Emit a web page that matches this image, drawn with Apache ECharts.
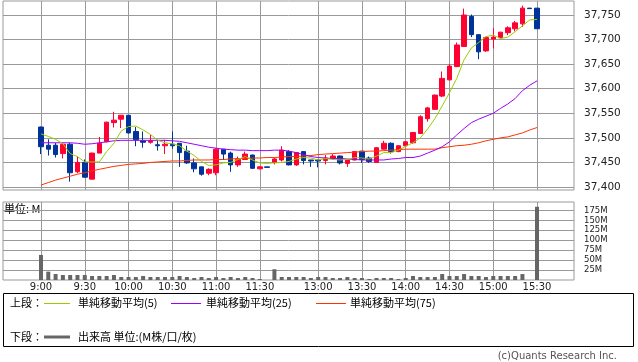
<!DOCTYPE html>
<html><head><meta charset="utf-8">
<script src="https://cdn.jsdelivr.net/npm/echarts@6/dist/echarts.min.js"></script>
<style>html,body{margin:0;padding:0;background:#fff}#c{width:638px;height:362px}</style>
</head><body><div id="c"></div>
<script>
// ---- data ----
const times = ["9:00","9:05","9:10","9:15","9:20","9:25","9:30","9:35","9:40","9:45","9:50","9:55",
"10:00","10:05","10:10","10:15","10:20","10:25","10:30","10:35","10:40","10:45","10:50","10:55",
"11:00","11:05","11:10","11:15","11:20","11:25","11:30","",
"12:30","12:35","12:40","12:45","12:50","12:55",
"13:00","13:05","13:10","13:15","13:20","13:25","13:30","13:35","13:40","13:45","13:50","13:55",
"14:00","14:05","14:10","14:15","14:20","14:25","14:30","14:35","14:40","14:45","14:50","14:55",
"15:00","15:05","15:10","15:15","15:20","15:25","15:30"];
const opens  = [37522,37485,37485,37468,37487,37431,37450,37416,37469,37492,37531,37538,37546,37513,37494,37491,37486,37484,37487,37489,37473,37449,37441,37428,37429,37477,37469,37445,37456,37465,37437,37441,37450,37455,37472,37445,37472,37455,37455,37454,37458,37463,37448,37455,37473,37459,37450,37477,37489,37472,37484,37490,37509,37539,37558,37585,37618,37645,37686,37747,37710,37677,37701,37704,37714,37722,37732,37764,37764];
const closes = [37482,37477,37466,37487,37429,37450,37420,37469,37489,37532,37536,37546,37510,37496,37491,37494,37484,37487,37484,37470,37449,37437,37426,37436,37477,37467,37445,37456,37467,37438,37441,37440,37457,37475,37445,37470,37454,37453,37453,37459,37463,37449,37455,37472,37456,37452,37480,37489,37472,37484,37492,37511,37543,37561,37587,37621,37646,37689,37750,37710,37675,37704,37705,37715,37724,37734,37764,37763,37722];
const lows   = [37467,37464,37460,37458,37411,37428,37419,37415,37469,37491,37521,37520,37509,37483,37480,37488,37474,37467,37478,37441,37447,37430,37423,37424,37424,37455,37431,37441,37456,37437,37436,37440,37446,37452,37444,37443,37446,37441,37440,37446,37456,37446,37441,37454,37449,37449,37450,37476,37468,37471,37483,37488,37508,37533,37557,37583,37617,37644,37685,37705,37660,37675,37682,37702,37709,37717,37726,37763,37722];
const highs  = [37523,37497,37490,37490,37490,37462,37456,37470,37502,37533,37553,37546,37546,37522,37513,37506,37496,37496,37513,37489,37484,37458,37441,37438,37479,37477,37472,37462,37472,37466,37442,37441,37460,37483,37475,37471,37473,37455,37456,37465,37467,37464,37455,37473,37473,37462,37481,37494,37491,37485,37493,37512,37546,37563,37588,37635,37650,37694,37763,37751,37711,37706,37723,37716,37727,37738,37769,37764,37764];
const ma5  = [37508,37503,37497,37488,37468,37462,37451,37451,37451,37472,37489,37514,37523,37524,37516,37507,37495,37490,37488,37484,37473,37464,37452,37444,37445,37449,37450,37456,37462,37455,37449,37448,37449,37450,37452,37457,37460,37459,37455,37458,37456,37455,37456,37460,37459,37457,37463,37470,37470,37475,37483,37490,37500,37518,37539,37565,37592,37621,37659,37683,37694,37706,37709,37702,37705,37716,37728,37740,37741];
const ma25 = [37490,37490,37490,37490,37490,37489,37487,37488,37490,37492,37494,37495,37495,37495,37495,37495,37495,37495,37494,37493,37490,37487,37484,37481,37479,37477,37476,37475,37475,37474,37474,37474,37475,37475,37473,37470,37466,37462,37460,37459,37458,37458,37457,37456,37455,37455,37455,37455,37457,37458,37460,37460,37463,37469,37475,37482,37492,37506,37519,37531,37538,37544,37550,37560,37569,37580,37596,37607,37616];
const ma75 = [37404,37409,37414,37418,37422,37426,37429,37433,37436,37439,37442,37444,37446,37447,37448,37450,37451,37452,37453,37453,37454,37455,37455,37455,37456,37456,37457,37458,37458,37459,37459,37460,37460,37461,37462,37462,37463,37464,37466,37467,37468,37469,37470,37471,37472,37473,37473,37474,37475,37476,37477,37477,37477,37477,37477,37480,37482,37484,37485,37487,37490,37494,37497,37500,37502,37506,37510,37516,37521];
const volume = [63,21,15,12.5,12.5,12.5,12.5,10,10,10,12.5,7.5,7.5,7.5,10,7.5,7.5,7.5,7.5,10,7.5,5,7.5,5,7.5,5,7.5,5,7.5,5,2.5,0,27,7.5,7.5,7.5,7.5,5,7.5,7.5,5,5,7.5,5,5,2.5,5,5,5,2.5,5,10,7.5,7.5,7.5,15,10,10,15,10,10,7.5,10,10,10,10,15,0,184];
const xTickLabels = ["9:00","9:30","10:00","10:30","11:00","11:30","13:00","13:30","14:00","14:30","15:00","15:30"];
const priceTicks = [37400,37450,37500,37550,37600,37650,37700,37750];
const volTicks = [25,50,75,100,125,150,175];

// ---- chart ----
const XMIN = -5.21, XMAX = 73.07;
const YMIN = 37393.9, YMAX = 37778.5;
const VMAX = 196;
const tickIdx = xTickLabels.map(l => times.indexOf(l));
const candleData = times.map((t, i) => [i, opens[i], closes[i], lows[i], highs[i]]);
const pair = arr => arr.map((v, i) => [i, v]);
const GRID = '#999';
const FONT = 'DejaVu Sans';
const CJK = '"Noto Sans CJK JP", sans-serif';

const chart = echarts.init(document.getElementById('c'));
chart.setOption({
  animation: false,
  grid: [
    {left: 3, top: 1, width: 571, height: 189, show: true, borderColor: GRID, borderWidth: 1},
    {left: 3, top: 202, width: 571, height: 78, show: true, borderColor: GRID, borderWidth: 1}
  ],
  xAxis: [
    {type: 'value', gridIndex: 0, min: XMIN, max: XMAX,
     axisLine: {show: false}, axisTick: {show: false, customValues: tickIdx},
     axisLabel: {show: false, customValues: tickIdx},
     splitLine: {show: true, lineStyle: {color: GRID, width: 1}}},
    {type: 'value', gridIndex: 1, min: XMIN, max: XMAX,
     axisLine: {show: false}, axisTick: {show: false, customValues: tickIdx},
     axisLabel: {show: true, customValues: tickIdx, formatter: v => times[Math.round(v)],
                 margin: 2, fontSize: 10, color: '#222', fontFamily: FONT},
     splitLine: {show: true, lineStyle: {color: GRID, width: 1}}}
  ],
  yAxis: [
    {type: 'value', gridIndex: 0, position: 'right', min: YMIN, max: YMAX,
     axisLine: {show: false}, axisTick: {show: false, customValues: priceTicks},
     axisLabel: {customValues: priceTicks, formatter: v => Math.round(v).toLocaleString('en-US'),
                 margin: 10, fontSize: 10.5, color: '#222', fontFamily: FONT},
     splitLine: {show: true, lineStyle: {color: GRID, width: 1}}},
    {type: 'value', gridIndex: 1, position: 'right', min: 0, max: VMAX,
     axisLine: {show: false},
     axisTick: {show: true, customValues: volTicks, length: 7, lineStyle: {color: GRID}},
     axisLabel: {customValues: volTicks, formatter: v => v + 'M',
                 margin: 10, fontSize: 8.5, color: '#222', fontFamily: FONT},
     splitLine: {show: true, lineStyle: {color: GRID, width: 1}}}
  ],
  series: [
    {type: 'candlestick', xAxisIndex: 0, yAxisIndex: 0, data: candleData,
     dimensions: ['t', 'open', 'close', 'lowest', 'highest'],
     encode: {x: 't', y: ['open', 'close', 'lowest', 'highest']},
     barWidth: 5,
     itemStyle: {color: '#ff0033', color0: '#003399', borderColor: '#ff0033', borderColor0: '#003399', borderWidth: 1}},
    {type: 'line', xAxisIndex: 0, yAxisIndex: 0, data: pair(ma75), showSymbol: false, symbol: 'none',
     lineStyle: {color: '#ff3300', width: 1}},
    {type: 'line', xAxisIndex: 0, yAxisIndex: 0, data: pair(ma25), showSymbol: false, symbol: 'none',
     lineStyle: {color: '#9900ff', width: 1}},
    {type: 'line', xAxisIndex: 0, yAxisIndex: 0, data: pair(ma5), showSymbol: false, symbol: 'none',
     lineStyle: {color: '#99cc00', width: 1}},
    {type: 'bar', xAxisIndex: 1, yAxisIndex: 1, data: pair(volume), barWidth: 4,
     itemStyle: {color: '#666'}}
  ],
  graphic: [
    {type: 'text', left: 4, top: 203, style: {text: '単位: M', font: '11px ' + CJK, fill: '#000'}},
    {type: 'rect', shape: {x: 3.5, y: 293.5, width: 630, height: 53}, style: {fill: 'none', stroke: '#000', lineWidth: 1}},
    {type: 'text', x: 10, y: 303, style: {text: '上段：', font: '11px ' + CJK, fill: '#000', verticalAlign: 'middle'}},
    {type: 'line', shape: {x1: 44, y1: 303.5, x2: 70, y2: 303.5}, style: {stroke: '#99cc00', lineWidth: 1}},
    {type: 'text', x: 78, y: 303, style: {text: '単純移動平均(5)', font: '11px ' + CJK, fill: '#000', verticalAlign: 'middle'}},
    {type: 'line', shape: {x1: 171, y1: 303.5, x2: 201, y2: 303.5}, style: {stroke: '#9900ff', lineWidth: 1}},
    {type: 'text', x: 206, y: 303, style: {text: '単純移動平均(25)', font: '11px ' + CJK, fill: '#000', verticalAlign: 'middle'}},
    {type: 'line', shape: {x1: 316, y1: 303.5, x2: 346, y2: 303.5}, style: {stroke: '#ff3300', lineWidth: 1}},
    {type: 'text', x: 350, y: 303, style: {text: '単純移動平均(75)', font: '11px ' + CJK, fill: '#000', verticalAlign: 'middle'}},
    {type: 'text', x: 10, y: 337, style: {text: '下段：', font: '11px ' + CJK, fill: '#000', verticalAlign: 'middle'}},
    {type: 'line', shape: {x1: 44, y1: 337, x2: 70, y2: 337}, style: {stroke: '#666', lineWidth: 3}},
    {type: 'text', x: 78, y: 337, style: {text: '出来高 単位:(M株/口/枚)', font: '11px ' + CJK, fill: '#000', verticalAlign: 'middle'}},
    {type: 'text', x: 617, y: 356, style: {text: '(c)Quants Research Inc.', font: '10px ' + FONT, fill: '#555', align: 'right', verticalAlign: 'middle'}}
  ]
});
</script>
</body></html>
